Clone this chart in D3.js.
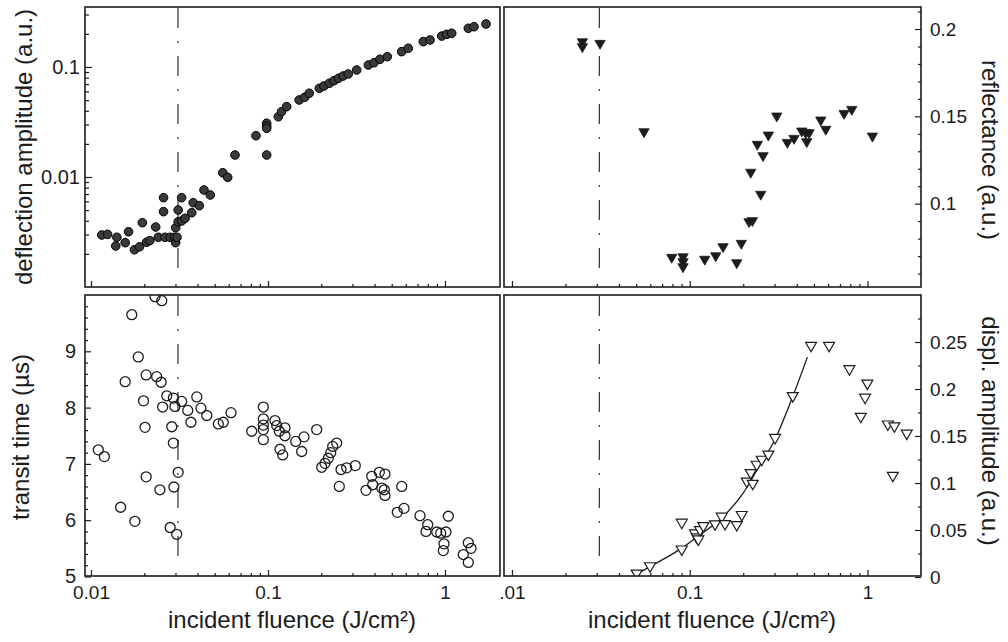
<!DOCTYPE html>
<html>
<head>
<meta charset="utf-8">
<script src="https://cdn.jsdelivr.net/npm/d3@7"></script>
<style>
  body { margin: 0; background: #fff; }
  svg { display: block; font-family: Arial, "Liberation Sans", Helvetica, sans-serif; }
</style>
</head>
<body>
<div id="chart"></div>
<script>
// ---- data ----
// top left: deflection amplitude vs fluence (log-log)
let deflFluence = [0.0115,0.0124,0.0140,0.0138,0.0156,0.0163,0.0176,0.0188,0.0195,0.0206,0.0215,0.0232,0.0240,0.0257,0.0257,0.0262,0.0280,0.0296,0.0301,0.0301,0.0306,0.0311,0.0311,0.0325,0.0325,0.0340,0.0371,0.0378,0.0409,0.0435,0.0472,0.0555,0.0592,0.0651,0.0855,0.0983,0.0983,0.0983,0.0983,0.1144,0.1193,0.1275,0.150,0.161,0.171,0.195,0.207,0.222,0.236,0.250,0.266,0.284,0.317,0.369,0.397,0.429,0.472,0.569,0.620,0.754,0.823,0.958,1.022,1.091,1.354,1.458,1.705];
let deflAmp = [0.00297,0.00301,0.00283,0.00236,0.00253,0.00318,0.00218,0.00232,0.00384,0.00255,0.00264,0.00351,0.00283,0.00648,0.00484,0.00283,0.00283,0.00283,0.00346,0.00253,0.00283,0.00501,0.00392,0.00648,0.00398,0.00421,0.00474,0.00584,0.00549,0.00762,0.00686,0.01094,0.00994,0.01585,0.02374,0.01585,0.0308,0.0290,0.0277,0.0353,0.0392,0.0436,0.0501,0.0530,0.0577,0.0640,0.0672,0.0711,0.0751,0.0789,0.0828,0.0864,0.0939,0.1042,0.1094,0.1175,0.1240,0.1379,0.1479,0.170,0.176,0.191,0.198,0.2025,0.2248,0.2325,0.246];

// top right: reflectance
let reflFluence = [0.0249,0.0249,0.0313,0.0553,0.0792,0.0917,0.0917,0.0917,0.1215,0.1401,0.1540,0.1839,0.1951,0.2156,0.2251,0.2204,0.2401,0.2509,0.2585,0.2769,0.3088,0.3542,0.3863,0.4269,0.4496,0.4692,0.4554,0.5460,0.5826,0.7385,0.8158,1.066];
let reflValue = [0.1927,0.1899,0.1918,0.1412,0.0693,0.0696,0.0668,0.0639,0.0682,0.0702,0.0754,0.0662,0.0773,0.0897,0.0903,0.1180,0.1340,0.1054,0.1275,0.1393,0.1502,0.1351,0.1374,0.1416,0.1406,0.1406,0.1355,0.1479,0.1426,0.1517,0.1540,0.1387];

// bottom left: transit time
let transitFluence = [0.0230,0.0251,0.0170,0.0185,0.0156,0.0205,0.0235,0.0249,0.0198,0.0268,0.0292,0.0325,0.0298,0.0254,0.0352,0.0396,0.0418,0.0451,0.0367,0.0524,0.0559,0.0618,0.0809,0.0941,0.0941,0.0941,0.0941,0.0941,0.1095,0.1120,0.1158,0.1247,0.1247,0.1169,0.1211,0.1434,0.0202,0.0286,0.0292,0.0110,0.0119,0.0311,0.0205,0.0245,0.0294,0.0147,0.0177,0.0280,0.0305,0.1884,0.1597,0.1550,0.2444,0.2320,0.2261,0.2191,0.2099,0.2011,0.2585,0.2784,0.3113,0.2528,0.3854,0.4255,0.4581,0.3904,0.3579,0.4390,0.4541,0.4581,0.5694,0.5376,0.5866,0.7225,0.7986,0.7811,0.8981,0.9456,1.013,1.044,0.9872,0.9781,1.354,1.403,1.269,1.354];
let transitTime = [9.97,9.90,9.65,8.90,8.46,8.58,8.55,8.45,8.12,8.21,8.17,8.11,8.02,8.01,7.95,8.19,7.99,7.86,7.74,7.71,7.74,7.91,7.58,8.01,7.80,7.69,7.61,7.43,7.77,7.68,7.58,7.64,7.50,7.26,7.16,7.40,7.65,7.66,7.37,7.25,7.13,6.85,6.77,6.54,6.59,6.23,5.98,5.87,5.75,7.61,7.48,7.22,7.37,7.31,7.20,7.10,7.01,6.94,6.90,6.93,6.97,6.60,6.78,6.85,6.82,6.63,6.53,6.57,6.54,6.44,6.60,6.14,6.21,6.08,5.92,5.80,5.79,5.77,5.79,6.07,5.58,5.46,5.60,5.50,5.39,5.25];

// bottom right: displacement amplitude + fitted curve
let displFluence = [0.0503,0.0598,0.0902,0.0902,0.1071,0.1095,0.1118,0.1143,0.1193,0.1388,0.1514,0.1580,0.1839,0.1962,0.2094,0.2204,0.2262,0.2382,0.2541,0.2769,0.3020,0.3798,0.4815,0.6081,0.7910,0.9986,0.9694,0.9169,1.301,1.417,1.664,1.388];
let displAmp = [0.004,0.0118,0.0296,0.0581,0.0467,0.0425,0.0403,0.0503,0.0545,0.0564,0.0645,0.0567,0.0556,0.0663,0.1019,0.1109,0.0995,0.1198,0.1251,0.1305,0.1483,0.1928,0.2463,0.2463,0.2214,0.2061,0.1911,0.1708,0.1626,0.1607,0.1529,0.1080];
let fitFluence = [0.0492,0.0598,0.0902,0.1143,0.1514,0.2003,0.2432,0.3020,0.3750,0.4590];
let fitAmp = [0.002,0.011,0.0307,0.0449,0.0628,0.0895,0.1163,0.1465,0.1893,0.2339];

// threshold marked by the dash-dot line
let thresholdFluence = 0.031;

// ---- ticks ----
let fluenceMajor = [0.01, 0.1, 1];
let fluenceLabelsLeft = ['0.01', '0.1', '1'];
let fluenceLabelsRight = ['.01', '0.1', '1'];
let fluenceMinor = [0.02,0.03,0.04,0.05,0.06,0.07,0.08,0.09,0.2,0.3,0.4,0.5,0.6,0.7,0.8,0.9];
let deflMajor = [0.01, 0.1];
let deflLabels = ['0.01', '0.1'];
let deflMinor = [0.002,0.003,0.004,0.005,0.006,0.007,0.008,0.009,0.02,0.03,0.04,0.05,0.06,0.07,0.08,0.09,0.2,0.3];
let reflMajor = [0.1, 0.15, 0.2];
let reflLabels = ['0.1', '0.15', '0.2'];
let reflMinor = [0.06,0.07,0.08,0.09,0.11,0.12,0.13,0.14,0.16,0.17,0.18,0.19,0.21];
let transitMajor = [5, 6, 7, 8, 9];
let transitMinor = [5.2,5.4,5.6,5.8,6.2,6.4,6.6,6.8,7.2,7.4,7.6,7.8,8.2,8.4,8.6,8.8,9.2,9.4,9.6,9.8];
let displMajor = [0, 0.05, 0.1, 0.15, 0.2, 0.25];
let displLabels = ['0', '0.05', '0.1', '0.15', '0.2', '0.25'];
let displMinor = [0.025,0.075,0.125,0.175,0.225,0.275];

// ---- layout ----
let width = 1008, height = 642;
let ink = '#1c1c1c';
let leftX = [85, 500], rightX = [504, 921];
let topY = [7, 287], botY = [295, 576];

let svg = d3.select('#chart').append('svg')
  .attr('width', width)
  .attr('height', height)
  .style('background', '#fff');

// scales
let xLeft = d3.scaleLog().domain([0.00925, 2.045]).range(leftX);
let xRight = d3.scaleLog().domain([0.00902, 2.0]).range(rightX);
let yDefl = d3.scaleLog().domain([0.001, 0.351]).range([topY[1], topY[0]]);
let yRefl = d3.scaleLinear().domain([0.0523, 0.2126]).range([topY[1], topY[0]]);
let yTransit = d3.scaleLinear().domain([5, 10]).range([576.5, 295]);
let yDispl = d3.scaleLinear().domain([0, 0.3]).range([577, 295]);

// clip rects for each panel
let defs = svg.append('defs');
function clip(id, xr, yr) {
  defs.append('clipPath').attr('id', id).append('rect')
    .attr('x', xr[0]).attr('y', yr[0])
    .attr('width', xr[1] - xr[0]).attr('height', yr[1] - yr[0]);
  return 'url(#' + id + ')';
}

// axis helper: ticks point inward, no domain path
function axis(gen, tr, size, labels, pad, fs) {
  let g = svg.append('g').attr('transform', tr)
    .call(gen.tickSize(-size).tickPadding(pad || 0)
      .tickFormat(labels ? (d, i) => labels[i] : ''));
  g.select('.domain').remove();
  g.selectAll('line').attr('stroke', ink).attr('stroke-width', 1.2);
  g.selectAll('text').attr('fill', ink).style('font-size', (fs || 19) + 'px')
    .style('font-family', 'Arial, "Liberation Sans", Helvetica, sans-serif');
  return g;
}

function frame(xr, yr) {
  svg.append('rect')
    .attr('x', xr[0]).attr('y', yr[0])
    .attr('width', xr[1] - xr[0]).attr('height', yr[1] - yr[0])
    .attr('fill', 'none').attr('stroke', ink).attr('stroke-width', 1.6);
}

function threshold(x, yr) {
  svg.append('line')
    .attr('x1', x(thresholdFluence)).attr('x2', x(thresholdFluence))
    .attr('y1', yr[0] + 1).attr('y2', yr[1] - 14)
    .attr('stroke', ink).attr('stroke-width', 1.1)
    .attr('stroke-dasharray', '20,13,2,13');
}

let downTri = (size) => d3.symbol().type(d3.symbolTriangle).size(size)();

// ===== top left: deflection amplitude =====
threshold(xLeft, topY);
axis(d3.axisBottom(xLeft).tickValues(fluenceMajor), 'translate(0,' + topY[1] + ')', 6);
axis(d3.axisBottom(xLeft).tickValues(fluenceMinor), 'translate(0,' + topY[1] + ')', 3);
axis(d3.axisLeft(yDefl).tickValues(deflMajor), 'translate(' + leftX[0] + ',0)', 7, deflLabels, 5, 20);
axis(d3.axisLeft(yDefl).tickValues(deflMinor), 'translate(' + leftX[0] + ',0)', 4);

svg.append('g').attr('clip-path', clip('clipTL', leftX, topY))
  .selectAll('circle')
  .data(d3.zip(deflFluence, deflAmp))
  .enter().append('circle')
  .attr('cx', d => xLeft(d[0]))
  .attr('cy', d => yDefl(d[1]))
  .attr('r', 4.3)
  .attr('fill', '#3a3a3a')
  .attr('stroke', '#000')
  .attr('stroke-width', 1);
frame(leftX, topY);

// ===== top right: reflectance =====
threshold(xRight, topY);
axis(d3.axisBottom(xRight).tickValues(fluenceMajor), 'translate(0,' + topY[1] + ')', 6);
axis(d3.axisBottom(xRight).tickValues(fluenceMinor), 'translate(0,' + topY[1] + ')', 3);
axis(d3.axisRight(yRefl).tickValues(reflMajor), 'translate(' + rightX[1] + ',0)', 6, reflLabels, 9);
axis(d3.axisRight(yRefl).tickValues(reflMinor), 'translate(' + rightX[1] + ',0)', 3);

svg.append('g').attr('clip-path', clip('clipTR', rightX, topY))
  .selectAll('path')
  .data(d3.zip(reflFluence, reflValue))
  .enter().append('path')
  .attr('d', downTri(46))
  .attr('transform', d => 'translate(' + xRight(d[0]) + ',' + yRefl(d[1]) + ') rotate(180)')
  .attr('fill', ink)
  .attr('stroke', ink)
  .attr('stroke-width', 0.8);
frame(rightX, topY);

// ===== bottom left: transit time =====
threshold(xLeft, botY);
axis(d3.axisBottom(xLeft).tickValues(fluenceMajor), 'translate(0,' + botY[1] + ')', 6, fluenceLabelsLeft, 10);
axis(d3.axisBottom(xLeft).tickValues(fluenceMinor), 'translate(0,' + botY[1] + ')', 3);
axis(d3.axisLeft(yTransit).tickValues(transitMajor), 'translate(' + leftX[0] + ',0)', 6, transitMajor.map(String), 9, 20);
axis(d3.axisLeft(yTransit).tickValues(transitMinor), 'translate(' + leftX[0] + ',0)', 3);

svg.append('g').attr('clip-path', clip('clipBL', leftX, botY))
  .selectAll('circle')
  .data(d3.zip(transitFluence, transitTime))
  .enter().append('circle')
  .attr('cx', d => xLeft(d[0]))
  .attr('cy', d => yTransit(d[1]))
  .attr('r', 5)
  .attr('fill', 'none')
  .attr('stroke', ink)
  .attr('stroke-width', 1.3);
frame(leftX, botY);

// ===== bottom right: displacement amplitude =====
threshold(xRight, botY);
axis(d3.axisBottom(xRight).tickValues(fluenceMajor), 'translate(0,' + botY[1] + ')', 6, fluenceLabelsRight, 10);
axis(d3.axisBottom(xRight).tickValues(fluenceMinor), 'translate(0,' + botY[1] + ')', 3);
axis(d3.axisRight(yDispl).tickValues(displMajor), 'translate(' + rightX[1] + ',0)', 6, displLabels, 9);
axis(d3.axisRight(yDispl).tickValues(displMinor), 'translate(' + rightX[1] + ',0)', 3);

let fitLine = d3.line()
  .x(d => xRight(d[0]))
  .y(d => yDispl(d[1]))
  .curve(d3.curveMonotoneX);

let brPlot = svg.append('g').attr('clip-path', clip('clipBR', rightX, botY));
brPlot.append('path')
  .datum(d3.zip(fitFluence, fitAmp))
  .attr('d', fitLine)
  .attr('fill', 'none')
  .attr('stroke', ink)
  .attr('stroke-width', 1.3);
brPlot.selectAll('.tri')
  .data(d3.zip(displFluence, displAmp))
  .enter().append('path')
  .attr('class', 'tri')
  .attr('d', downTri(52))
  .attr('transform', d => 'translate(' + xRight(d[0]) + ',' + yDispl(d[1]) + ') rotate(180)')
  .attr('fill', '#fff')
  .attr('stroke', ink)
  .attr('stroke-width', 1.2);
frame(rightX, botY);

// ===== axis titles =====
function title(txt, x, y, rot) {
  svg.append('text')
    .attr('transform', 'translate(' + x + ',' + y + ')' + (rot ? ' rotate(' + rot + ')' : ''))
    .attr('text-anchor', 'middle')
    .attr('fill', ink)
    .style('font-size', '24px')
    .text(txt);
}
title('deflection amplitude (a.u.)', 32, 147, -90);
title('transit time (\u00b5s)', 29, 437, -90);
title('reflectance (a.u.)', 982, 150, 90);
title('displ. amplitude (a.u.)', 982, 431, 90);
title('incident fluence (J/cm\u00b2)', 292, 628);
title('incident fluence (J/cm\u00b2)', 712, 628);
</script>
</body>
</html>
